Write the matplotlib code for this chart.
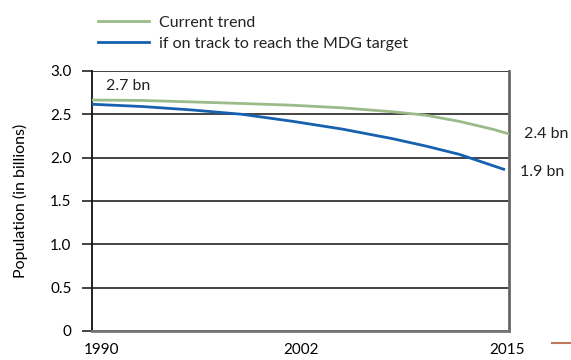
import matplotlib
matplotlib.use('Agg')
import matplotlib.pyplot as plt
import matplotlib.transforms as mtransforms
from matplotlib.lines import Line2D

plt.rcParams['font.family'] = ['Lato', 'DejaVu Sans']
plt.rcParams['text.color'] = '#222222'

# population (billions) under the two scenarios
years_trend = [1990, 1993, 1996, 1999, 2002, 2005, 2008, 2010, 2012, 2014, 2015]
pop_trend = [2.665, 2.66, 2.643, 2.625, 2.605, 2.575, 2.53, 2.49, 2.42, 2.33, 2.275]

years_mdg = [1990, 1993, 1996, 1999, 2002, 2005, 2008, 2010, 2012, 2014.7]
pop_mdg = [2.616, 2.59, 2.55, 2.50, 2.42, 2.33, 2.22, 2.135, 2.04, 1.866]

series_names = ['Current trend', 'if on track to reach the MDG target']
yticks = [0, 0.5, 1.0, 1.5, 2.0, 2.5, 3.0]
ytick_labels = ['0', '0.5', '1.0', '1.5', '2.0', '2.5', '3.0']
xticks = [1990, 2002, 2015]

green = '#9bbb88'
blue = '#1660b0'

fig = plt.figure(figsize=(5.71, 3.6), dpi=100)
ax = fig.add_axes([0.1616, 0.0806, 0.8909 - 0.1616, 0.8028 - 0.0806])

ax.plot(years_trend, pop_trend, color=green, lw=2.0, label=series_names[0], zorder=3)
ax.plot(years_mdg, pop_mdg, color=blue, lw=2.0, label=series_names[1], zorder=4)

ax.set_xlim(1990, 2015)
ax.set_ylim(0, 3.0)

ax.set_yticks(yticks)
ax.set_yticklabels(ytick_labels, fontsize=11)
ax.tick_params(axis='y', length=7, width=1.1, color='#111111', pad=8)
ax.yaxis.grid(True, color='#111111', lw=1.1)
ax.set_axisbelow(True)

ax.set_xticks(xticks)
ax.set_xticklabels([str(x) for x in xticks], fontsize=11)
ax.tick_params(axis='x', length=0, pad=9)
# nudge the year labels slightly
for lbl, dx in zip(ax.get_xticklabels(), [9, 9, -2]):
    lbl.set_transform(lbl.get_transform() + mtransforms.ScaledTranslation(dx / 100, 0, fig.dpi_scale_trans))

ax.spines['top'].set_visible(False)
ax.spines['left'].set_color('#111111')
ax.spines['left'].set_linewidth(1.3)
ax.spines['right'].set_color('#666666')
ax.spines['right'].set_linewidth(2.0)
ax.spines['bottom'].set_color('#777777')
ax.spines['bottom'].set_linewidth(2.0)

ax.set_ylabel('Population (in billions)', fontsize=11.5)
ax.yaxis.set_label_coords(-0.155, 0.5)

# end-point annotations
ax.annotate('2.7 bn', xy=(years_trend[0], pop_trend[0]), xytext=(10, 10),
            textcoords='offset points', fontsize=11.5, va='center', ha='left')
ax.annotate('2.4 bn', xy=(years_trend[-1], pop_trend[-1]), xytext=(11, 0),
            textcoords='offset points', fontsize=11.5, va='center', ha='left',
            annotation_clip=False)
ax.annotate('1.9 bn', xy=(years_mdg[-1], pop_mdg[-1]), xytext=(12, -2),
            textcoords='offset points', fontsize=11.5, va='center', ha='left',
            annotation_clip=False)

fig.legend(loc='upper left', bbox_to_anchor=(0.152, 0.987), frameon=False,
           fontsize=11.5, handlelength=3.2, handletextpad=0.65, labelspacing=0.42,
           borderaxespad=0.3)

# small rule at the page edge
fig.add_artist(Line2D([552 / 571, 1.0], [1 - 343 / 360, 1 - 343 / 360],
                      color='#c0785a', lw=1.5, transform=fig.transFigure))

fig.savefig('out.png', dpi=100)
